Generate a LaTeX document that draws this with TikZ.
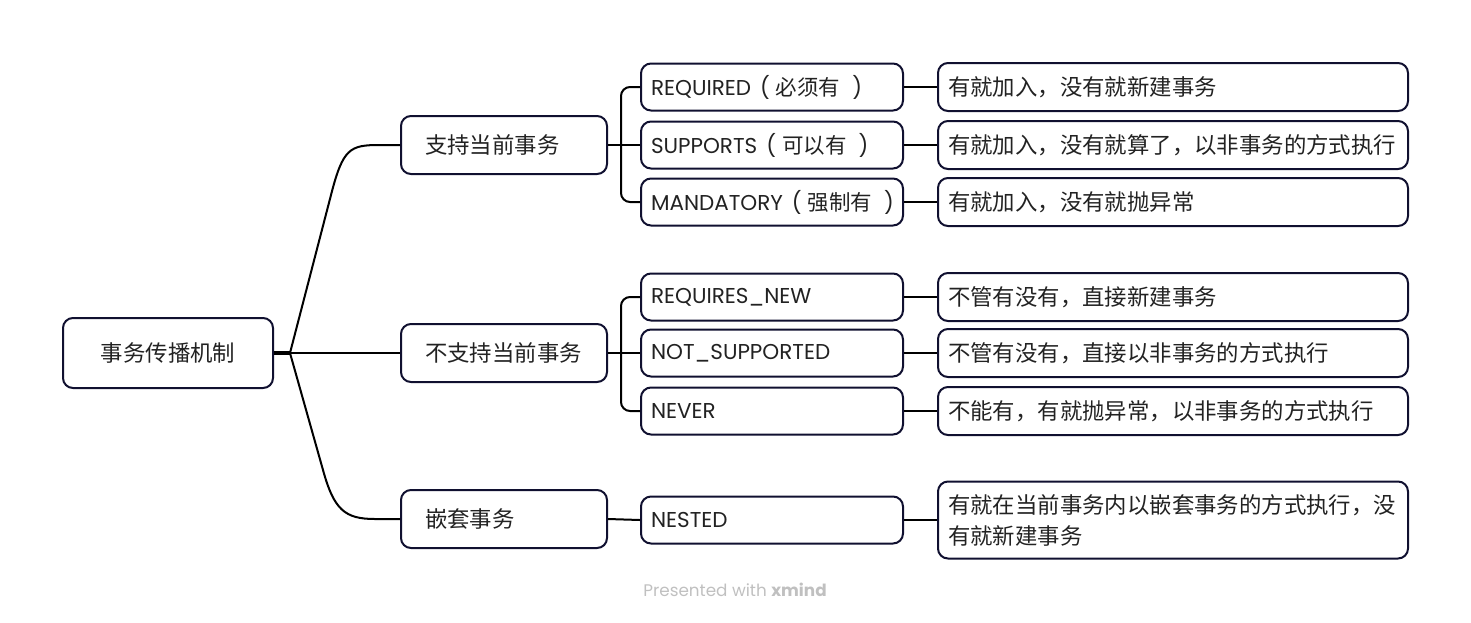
\documentclass[tikz,border=0pt]{standalone}
\usepackage{fontspec}
\setmainfont{Poppins}
\newfontfamily\cjk{Noto Sans CJK SC}
\definecolor{boxline}{RGB}{16,16,48}
\definecolor{ink}{RGB}{34,34,34}
\definecolor{credit}{RGB}{192,192,192}
% mode name with its chinese part in brackets, kept on one line
\newcommand{\modename}[2]{\mbox{#1\hspace{9pt}(\hspace{6pt}{\cjk #2}\hspace{12pt})}}
\tikzset{
  box/.style={draw=boxline, line width=2pt, rounded corners=10pt, text=ink, inner ysep=0pt},
  rootbox/.style={box, minimum width=210pt, minimum height=70pt, font=\cjk\fontsize{22.4}{26}\selectfont},
  topicbox/.style={box, text width=158pt, inner xsep=24pt, minimum height=58pt, align=left, font=\cjk\fontsize{22.4}{26}\selectfont},
  modebox/.style={box, text width=242pt, inner xsep=10pt, minimum height=47pt, align=left, font=\fontsize{21.5}{26}\selectfont},
  notebox/.style={box, text width=450pt, inner xsep=10pt, minimum height=48pt, align=left, font=\cjk\fontsize{22.4}{31}\selectfont},
  link/.style={line width=2pt, black}
}
\begin{document}
\begin{tikzpicture}[x=1pt,y=-1pt]
\useasboundingbox (0,0) rectangle (1471,622);
% root and first level
\node[rootbox] (root) at (168,353) {事务传播机制};
\node[topicbox] (t1) at (504,145) {支持当前事务};
\node[topicbox] (t2) at (504,353) {不支持当前事务};
\node[topicbox] (t3) at (504,519) {嵌套事务};
% propagation modes
\node[modebox] (req) at (772,87) {\modename{REQUIRED}{必须有}};
\node[modebox] (sup) at (772,145) {\modename{SUPPORTS}{可以有}};
\node[modebox] (man) at (772,202) {\modename{MANDATORY}{强制有}};
\node[modebox] (rnew) at (772,297) {REQUIRES\_NEW};
\node[modebox] (nsup) at (772,353) {NOT\_SUPPORTED};
\node[modebox] (never) at (772,411) {NEVER};
\node[modebox] (nest) at (772,520) {NESTED};
% notes
\node[notebox] (dreq) at (1173,87) {有就加入，没有就新建事务};
\node[notebox] (dsup) at (1173,145) {有就加入，没有就算了，以非事务的方式执行};
\node[notebox] (dman) at (1173,202) {有就加入，没有就抛异常};
\node[notebox] (drnew) at (1173,297) {不管有没有，直接新建事务};
\node[notebox] (dnsup) at (1173,353) {不管有没有，直接以非事务的方式执行};
\node[notebox] (dnever) at (1173,411) {不能有，有就抛异常，以非事务的方式执行};
\node[notebox, minimum height=77pt] (dnest) at (1173,520) {有就在当前事务内以嵌套事务的方式执行，没\\有就新建事务};
% branches
\coordinate (j) at (290,353);
\draw[link, line width=4pt] (root.east) -- (j);
\draw[link] (j) -- (t2.west);
\draw[link] (j) -- (331,195) .. controls (343,148) and (350,145) .. (380,145) -- (t1.west);
\draw[link] (j) -- (323,470) .. controls (334,510) and (345,519) .. (375,519) -- (t3.west);
\draw[link] (t1.east) -- (sup.west);
\draw[link, rounded corners=9pt] (req.west) -- ++(-19,0) |- (man.west);
\draw[link] (t2.east) -- (nsup.west);
\draw[link, rounded corners=9pt] (rnew.west) -- ++(-19,0) |- (never.west);
\draw[link] (t3.east) -- (nest.west);
\draw[link] (req.east) -- (dreq.west);
\draw[link] (sup.east) -- (dsup.west);
\draw[link] (man.east) -- (dman.west);
\draw[link] (rnew.east) -- (drnew.west);
\draw[link] (nsup.east) -- (dnsup.west);
\draw[link] (never.east) -- (dnever.west);
\draw[link] (nest.east) -- (dnest.west);
\node[font=\fontsize{16.8}{20}\selectfont, text=credit] (mark) at (735,590) {Presented with \textbf{xmind}};
\end{tikzpicture}
\end{document}
